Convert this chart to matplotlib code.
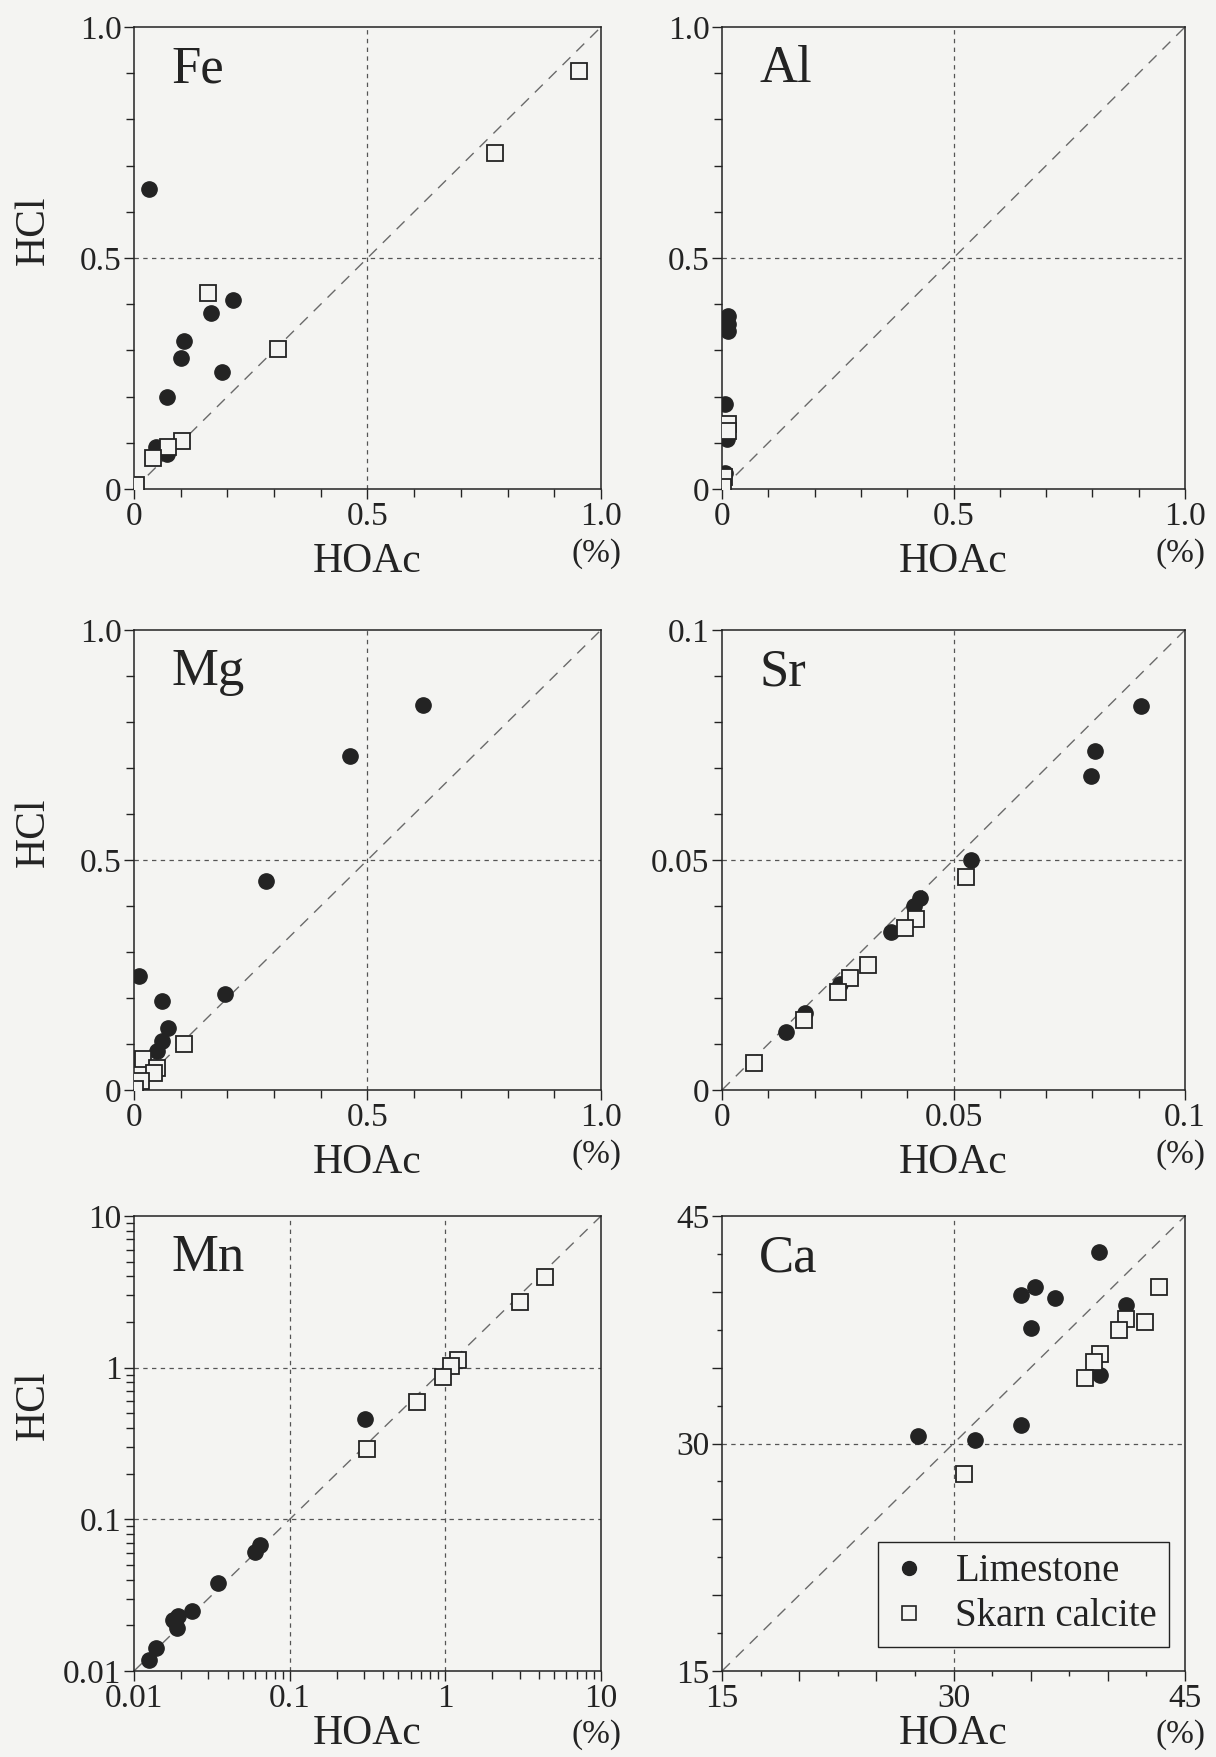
"""HCl vs HOAc leach comparison for six elements (limestone and skarn calcite)."""
import matplotlib
import numpy as np

matplotlib.use("Agg")
import matplotlib.pyplot as plt
from matplotlib.ticker import LogLocator, MultipleLocator, NullFormatter

plt.rcParams["font.family"] = ["Liberation Serif", "DejaVu Serif"]

# --- values (%) : HOAc (x) and HCl (y) -------------------------------------
FE_LIME_HOAC = [0.032, 0.213, 0.165, 0.108, 0.101, 0.188, 0.070, 0.047, 0.070]
FE_LIME_HCL = [0.650, 0.409, 0.382, 0.321, 0.283, 0.254, 0.200, 0.090, 0.076]
FE_SKARN_HOAC = [0.952, 0.774, 0.158, 0.309, 0.103, 0.072, 0.041, 0.004]
FE_SKARN_HCL = [0.904, 0.728, 0.424, 0.303, 0.104, 0.091, 0.068, 0.009]

AL_LIME_HOAC = [0.012, 0.014, 0.012, 0.006, 0.010, 0.006]
AL_LIME_HCL = [0.375, 0.358, 0.343, 0.183, 0.108, 0.035]
AL_SKARN_HOAC = [0.012, 0.012, 0.004, 0.002]
AL_SKARN_HCL = [0.140, 0.125, 0.025, 0.005]

MG_LIME_HOAC = [0.618, 0.463, 0.282, 0.194, 0.011, 0.059, 0.072, 0.061, 0.050]
MG_LIME_HCL = [0.836, 0.727, 0.454, 0.208, 0.247, 0.194, 0.134, 0.107, 0.085]
MG_SKARN_HOAC = [0.106, 0.020, 0.049, 0.043, 0.016, 0.002]
MG_SKARN_HCL = [0.101, 0.067, 0.047, 0.038, 0.020, 0.002]

SR_LIME_HOAC = [0.0906, 0.0806, 0.0798, 0.0538, 0.0428, 0.0414, 0.0365, 0.0254, 0.0179, 0.0138]
SR_LIME_HCL = [0.0835, 0.0737, 0.0683, 0.0501, 0.0417, 0.0399, 0.0343, 0.0230, 0.0168, 0.0127]
SR_SKARN_HOAC = [0.0528, 0.0419, 0.0396, 0.0315, 0.0277, 0.0250, 0.0177, 0.0069]
SR_SKARN_HCL = [0.0463, 0.0371, 0.0353, 0.0272, 0.0243, 0.0214, 0.0153, 0.0059]

MN_LIME_HOAC = [0.303, 0.0647, 0.0595, 0.0347, 0.0237, 0.0191, 0.0177, 0.0189, 0.0138, 0.0124]
MN_LIME_HCL = [0.459, 0.0675, 0.0606, 0.0378, 0.0247, 0.0230, 0.0217, 0.0193, 0.0142, 0.0118]
MN_SKARN_HOAC = [4.40, 3.00, 1.21, 1.08, 0.964, 0.656, 0.315]
MN_SKARN_HCL = [3.94, 2.70, 1.13, 1.02, 0.873, 0.595, 0.292]

CA_LIME_HOAC = [39.4, 35.3, 34.4, 36.6, 41.2, 35.0, 39.5, 34.4, 27.7, 31.4]
CA_LIME_HCL = [42.6, 40.3, 39.8, 39.6, 39.1, 37.6, 34.5, 31.2, 30.5, 30.2]
CA_SKARN_HOAC = [43.3, 41.2, 42.4, 40.7, 39.5, 39.1, 38.5, 30.7]
CA_SKARN_HCL = [40.3, 38.2, 38.0, 37.5, 35.9, 35.4, 34.3, 28.0]

BG = "#f4f4f2"
INK = "#232323"
W, H = 1216, 1757
COLS = [(134, 601), (722, 1185)]
ROWS = [(27, 489), (630, 1090), (1216, 1671)]
# vertical placement of the axis titles, per row
HOAC_Y = [-0.18, -0.18, -0.16]
HCL_Y = [0.56, 0.56, 0.585]


def rect(col, row):
    left, right = COLS[col]
    top, bottom = ROWS[row]
    return [left / W, 1 - bottom / H, (right - left) / W, (bottom - top) / H]


def draw_panel(ax, name, lime, skarn, lo, hi, ticks, labels, minor, row, log=False, ylabel=False):
    ax.set_facecolor(BG)
    if log:
        ax.set_xscale("log")
        ax.set_yscale("log")
    ax.set_xlim(lo, hi)
    ax.set_ylim(lo, hi)

    # 1:1 line and dashed guides through the inner labelled ticks
    ax.plot([lo, hi], [lo, hi], color="#6a6a6a", lw=1.0, dashes=(8, 6), zorder=1)
    for v in ticks[1:-1]:
        ax.axvline(v, color="#555555", lw=0.9, dashes=(3.5, 3.5), zorder=1)
        ax.axhline(v, color="#555555", lw=0.9, dashes=(3.5, 3.5), zorder=1)

    ax.plot(lime[0], lime[1], "o", ms=11, color=INK, ls="none", zorder=3)
    ax.plot(skarn[0], skarn[1], "s", ms=11, mfc=BG, mec=INK, mew=1.3, ls="none", zorder=4)

    ax.set_xticks(ticks)
    ax.set_xticklabels(labels)
    ax.set_yticks(ticks)
    ax.set_yticklabels(labels)
    for axis in (ax.xaxis, ax.yaxis):
        if log:
            axis.set_minor_locator(LogLocator(base=10, subs=np.arange(2, 10)))
            axis.set_minor_formatter(NullFormatter())
        else:
            axis.set_minor_locator(MultipleLocator(minor))
    ax.tick_params(which="major", direction="out", length=7, width=1, colors=INK,
                   labelsize=24, pad=2)
    ax.tick_params(which="minor", direction="out", length=3.5 if name == "Ca" else 6,
                   width=1, colors=INK)
    for sp in ax.spines.values():
        sp.set_color(INK)
        sp.set_linewidth(1.1)

    ax.text(0.08, 0.96, name, transform=ax.transAxes, fontsize=38, va="top", color=INK)
    ax.text(0.5, HOAC_Y[row], "HOAc", transform=ax.transAxes, fontsize=30, ha="center",
            va="baseline", color=INK)
    ax.text(0.99, -0.14, "(%)", transform=ax.transAxes, fontsize=24, ha="center",
            va="center", color=INK)
    if ylabel:
        ax.text(-0.215, HCL_Y[row], "HCl", transform=ax.transAxes, fontsize=30, rotation=90,
                ha="center", va="center", color=INK)


fig = plt.figure(figsize=(W / 100, H / 100), dpi=100, facecolor=BG)

unit = ([0, 0.5, 1.0], ["0", "0.5", "1.0"])
panels = [
    ("Fe", (FE_LIME_HOAC, FE_LIME_HCL), (FE_SKARN_HOAC, FE_SKARN_HCL), 0, 1.0, *unit, 0.1, False, 0, 0),
    ("Al", (AL_LIME_HOAC, AL_LIME_HCL), (AL_SKARN_HOAC, AL_SKARN_HCL), 0, 1.0, *unit, 0.1, False, 1, 0),
    ("Mg", (MG_LIME_HOAC, MG_LIME_HCL), (MG_SKARN_HOAC, MG_SKARN_HCL), 0, 1.0, *unit, 0.1, False, 0, 1),
    ("Sr", (SR_LIME_HOAC, SR_LIME_HCL), (SR_SKARN_HOAC, SR_SKARN_HCL), 0, 0.1,
     [0, 0.05, 0.1], ["0", "0.05", "0.1"], 0.01, False, 1, 1),
    ("Mn", (MN_LIME_HOAC, MN_LIME_HCL), (MN_SKARN_HOAC, MN_SKARN_HCL), 0.01, 10,
     [0.01, 0.1, 1, 10], ["0.01", "0.1", "1", "10"], None, True, 0, 2),
    ("Ca", (CA_LIME_HOAC, CA_LIME_HCL), (CA_SKARN_HOAC, CA_SKARN_HCL), 15, 45,
     [15, 30, 45], ["15", "30", "45"], 2.5, False, 1, 2),
]

for name, lime, skarn, lo, hi, ticks, labels, minor, log, col, row in panels:
    ax = fig.add_axes(rect(col, row))
    draw_panel(ax, name, lime, skarn, lo, hi, ticks, labels, minor, row, log=log,
               ylabel=(col == 0))
    if name == "Ca":
        # Ca axes carry an unlabelled tick every 5 %
        ca_ticks = [15, 20, 25, 30, 35, 40, 45]
        ca_labels = ["15", "", "", "30", "", "", "45"]
        ax.set_xticks(ca_ticks)
        ax.set_xticklabels(ca_labels)
        ax.set_yticks(ca_ticks)
        ax.set_yticklabels(ca_labels)
        h1, = ax.plot([], [], "o", ms=10, color=INK, ls="none")
        h2, = ax.plot([], [], "s", ms=10, mfc=BG, mec=INK, mew=1.2, ls="none")
        leg = ax.legend([h1, h2], ["Limestone", "Skarn calcite"], loc="lower right",
                        bbox_to_anchor=(0.965, 0.053), borderaxespad=0, fontsize=28,
                        frameon=True, fancybox=False, edgecolor=INK, facecolor=BG,
                        framealpha=1, handletextpad=0.7, borderpad=0.3, labelspacing=0.2,
                        handlelength=1.0)
        leg.get_frame().set_linewidth(1.0)
        for t in leg.get_texts():
            t.set_color(INK)

fig.savefig("out.png", dpi=100, facecolor=BG)
